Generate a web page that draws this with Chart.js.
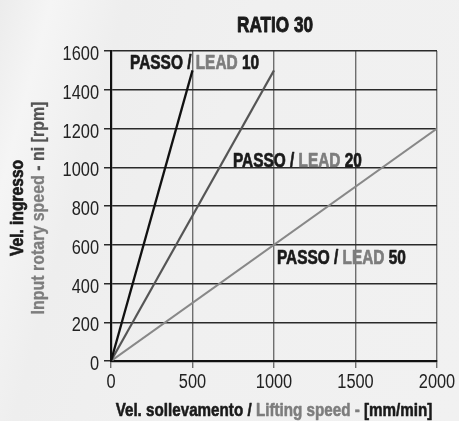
<!DOCTYPE html>
<html>
<head>
<meta charset="utf-8">
<script src="https://cdn.jsdelivr.net/npm/chart.js@4"></script>
<style>
  html, body { margin: 0; padding: 0; }
  body {
    width: 459px; height: 421px; overflow: hidden;
    background: linear-gradient(105deg, #ececec 0%, #f5f5f5 9%, #eeeeee 22%, #f0f0f0 45%, #f1f1f1 100%);
  }
  canvas { display: block; }
</style>
</head>
<body>
<canvas id="ratioChart" width="459" height="421"></canvas>
<script>
// Screw leads (mm) and the end point of each speed line
const leads = [10, 20, 50];
const liftSpeedEnd = [500, 1000, 2000];   // mm/min
const inputRpmEnd = [1500, 1500, 1200];   // rpm

// Axis ranges / tick steps
const xRange = [0, 2000], xStep = 500;
const yRange = [0, 1600], yStep = 200;

const lineColors = ['#111111', '#555555', '#888888'];
const lineWidths = [2.3, 2.1, 2.1];

const sans = "'Liberation Sans', Arial, sans-serif";
const BLACK = '#1a1a1a';
const GREY = '#7d7d7d';

const datasets = leads.map((lead, i) => ({
  label: 'LEAD ' + lead,
  data: [{ x: 0, y: 0 }, { x: liftSpeedEnd[i], y: inputRpmEnd[i] }],
  borderColor: lineColors[i],
  borderWidth: lineWidths[i],
  pointRadius: 0,
  tension: 0,
  fill: false
}));

// label anchors (data coords of the text's left baseline)
const leadLabels = [
  { lead: 10, x: 117, y: 1508 },
  { lead: 20, x: 748, y: 1000 },
  { lead: 50, x: 1018, y: 502 }
];

// narrow text: regular sans squeezed horizontally, optionally thickened
function narrowWidth(ctx, parts, k) {
  return parts.reduce((w, p) => w + ctx.measureText(p.text).width * k, 0);
}

function drawNarrow(ctx, parts, x, y, k, heavy) {
  parts.forEach(p => {
    ctx.save();
    ctx.translate(x, y);
    ctx.scale(k, 1);
    ctx.fillStyle = p.color;
    ctx.fillText(p.text, 0, 0);
    if (heavy) {
      ctx.strokeStyle = p.color;
      ctx.lineWidth = heavy;
      ctx.lineJoin = 'round';
      ctx.strokeText(p.text, 0, 0);
    }
    ctx.restore();
    x += ctx.measureText(p.text).width * k;
  });
}

const textPlugin = {
  id: 'chartText',
  afterDraw(chart) {
    const ctx = chart.ctx;
    const xs = chart.scales.x, ys = chart.scales.y;
    const area = chart.chartArea;
    const cx = (area.left + area.right) / 2;
    ctx.save();
    ctx.textAlign = 'left';
    ctx.textBaseline = 'alphabetic';

    // tick labels
    ctx.font = '19.5px ' + sans;
    xs.ticks.forEach(t => {
      const parts = [{ text: String(t.value), color: '#222' }];
      const w = narrowWidth(ctx, parts, 0.84);
      drawNarrow(ctx, parts, xs.getPixelForValue(t.value) - w / 2, 388, 0.84);
    });
    ys.ticks.forEach(t => {
      const parts = [{ text: String(t.value), color: '#222' }];
      const w = narrowWidth(ctx, parts, 0.84);
      drawNarrow(ctx, parts, 99 - w, ys.getPixelForValue(t.value) + 9, 0.84);
    });

    // title
    ctx.font = 'bold 22px ' + sans;
    const title = [{ text: 'RATIO 30', color: BLACK }];
    drawNarrow(ctx, title, cx + 1 - narrowWidth(ctx, title, 0.78) / 2, 32, 0.78, 0.9);

    // lead labels
    ctx.font = 'bold 19.5px ' + sans;
    leadLabels.forEach(l => {
      drawNarrow(ctx, [
        { text: 'PASSO / ', color: BLACK },
        { text: 'LEAD ', color: GREY },
        { text: String(l.lead), color: BLACK }
      ], xs.getPixelForValue(l.x), ys.getPixelForValue(l.y), 0.79, 0.7);
    });

    // x axis title
    const xParts = [
      { text: 'Vel. sollevamento / ', color: BLACK },
      { text: 'Lifting speed - ', color: GREY },
      { text: '[mm/min]', color: BLACK }
    ];
    ctx.font = 'bold 19px ' + sans;
    drawNarrow(ctx, xParts, cx - narrowWidth(ctx, xParts, 0.8) / 2, 416, 0.8, 0.6);

    // y axis title, two rotated lines
    const cy = (area.top + area.bottom) / 2 + 2;
    ctx.translate(0, cy);
    ctx.rotate(-Math.PI / 2);
    ctx.textBaseline = 'middle';
    const l1 = [{ text: 'Vel. ingresso', color: BLACK }];
    const l2 = [
      { text: 'Input rotary speed', color: GREY },
      { text: ' - ni [rpm]', color: '#555555' }
    ];
    drawNarrow(ctx, l1, -narrowWidth(ctx, l1, 0.82) / 2, 18, 0.82, 0.7);
    drawNarrow(ctx, l2, -narrowWidth(ctx, l2, 0.84) / 2, 39, 0.84, 0.3);
    ctx.restore();
  }
};

new Chart(document.getElementById('ratioChart').getContext('2d'), {
  type: 'line',
  data: { datasets },
  plugins: [textPlugin],
  options: {
    responsive: false,
    animation: false,
    layout: { padding: { top: 51, right: 22, left: 0, bottom: 0 } },
    plugins: { legend: { display: false }, tooltip: { enabled: false } },
    scales: {
      x: {
        type: 'linear',
        min: xRange[0], max: xRange[1],
        afterFit: s => { s.height = 60; },
        ticks: { stepSize: xStep, display: false },
        grid: { color: '#6e6e6e', lineWidth: 1.4, tickLength: 7 },
        border: { color: '#111', width: 2.2 }
      },
      y: {
        min: yRange[0], max: yRange[1],
        afterFit: s => { s.width = 111; },
        ticks: { stepSize: yStep, display: false },
        grid: { color: '#2a2a2a', lineWidth: 1.5, tickLength: 7 },
        border: { color: '#111', width: 2.2 }
      }
    }
  }
});
</script>
</body>
</html>
